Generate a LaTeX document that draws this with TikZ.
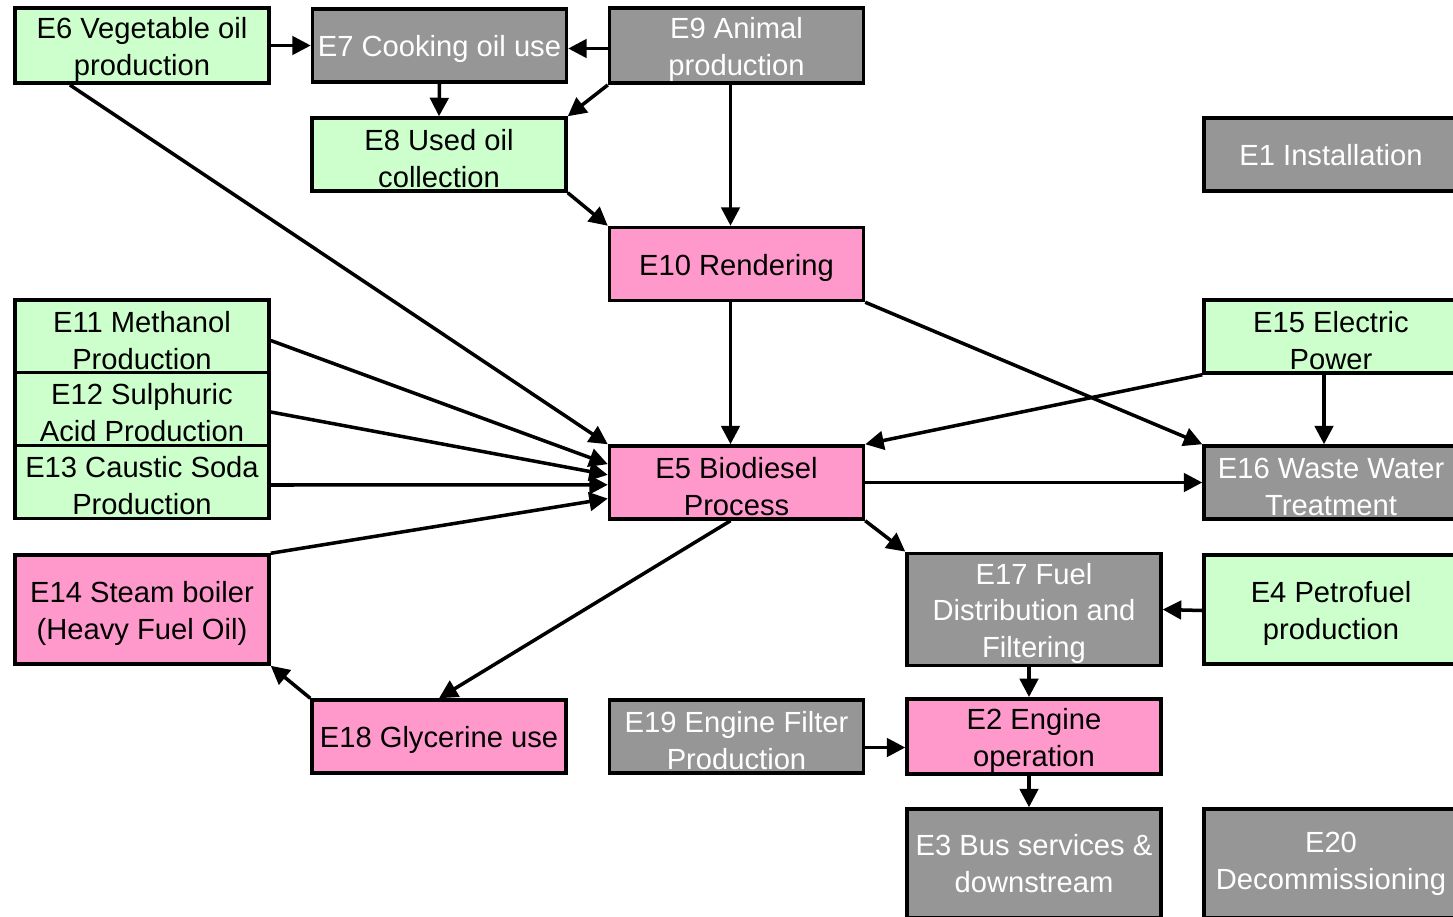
\documentclass[tikz,border=0pt]{standalone}
\usepackage{fontspec}
\setmainfont{Liberation Sans}
\usetikzlibrary{arrows.meta,calc}
\definecolor{inputgreen}{HTML}{CCFFCC}
\definecolor{processpink}{HTML}{FF99CC}
\definecolor{stagegray}{HTML}{969696}
% tall first line, so that text sits a little lower in its box
\newcommand\headstrut{\rule{0pt}{16.5pt}}
% deep line end for labels that have no descenders
\newcommand\footstrut{\rule[-4.5pt]{0pt}{0pt}}
\begin{document}
\begin{tikzpicture}[x=0.02cm,y=-0.02cm,
  box/.style={draw=black, line width=2pt, minimum width=5.08cm, minimum height=1.46cm,
    inner sep=1pt, align=center, font=\fontsize{16.6}{21}\selectfont,
    execute at begin node={\headstrut}},
  tallbox/.style={box, minimum height=2.18cm},
  green/.style={fill=inputgreen, text=black},
  pink/.style={fill=processpink, text=black},
  grey/.style={fill=stagegray, text=white},
  arr/.style={line width=2pt, -{Triangle[length=0.37cm,width=0.37cm]}}]
\useasboundingbox (0,0) rectangle (1453,916);
\clip (0,0) rectangle (1453,916);

% stages of the biodiesel life cycle
\node[box,green] (e6)  at (142,45.5)   {\headstrut E6 Vegetable oil\\production};
\node[box,grey]  (e7)  at (439.5,45.5) {E7 Cooking oil use};
\node[box,grey]  (e9)  at (736.5,45.5) {\headstrut E9 Animal\\production};
\node[box,green] (e8)  at (439,154.5)  {\headstrut E8 Used oil\\collection};
\node[box,grey]  (e1)  at (1331,154.5) {E1 Installation\footstrut};
\node[box,pink]  (e10) at (736.5,264)  {E10 Rendering};
\node[box,green] (e11) at (142,336.5)  {\headstrut E11 Methanol\\Production};
\node[box,green] (e12) at (142,409)    {\headstrut E12 Sulphuric\\Acid Production};
\node[box,green] (e13) at (142,482)    {\headstrut E13 Caustic Soda\\Production};
\node[box,green] (e15) at (1331,336.5) {\headstrut E15 Electric\\Power};
\node[box,pink]  (e5)  at (736.5,482.5){\headstrut E5 Biodiesel\\Process};
\node[box,grey]  (e16) at (1331,482.5) {\headstrut E16 Waste Water\\Treatment};
\node[tallbox,pink]  (e14) at (142,609.5)  {\headstrut E14 Steam boiler\\(Heavy Fuel Oil)};
\node[tallbox,grey]  (e17) at (1034,609.5) {\headstrut E17 Fuel\\Distribution and\\Filtering};
\node[tallbox,green] (e4)  at (1331,609.5) {\headstrut E4 Petrofuel\\production};
\node[box,pink]  (e18) at (439,736.5)  {E18 Glycerine use};
\node[box,grey]  (e19) at (736.5,736.5){\headstrut E19 Engine Filter\\Production};
\node[box,pink]  (e2)  at (1034,736.5) {\headstrut E2 Engine\\operation};
\node[tallbox,grey] (e3)  at (1034,863.5) {E3 Bus services \&\\downstream};
\node[tallbox,grey] (e20) at (1331,863.5) {E20\\Decommissioning};

% material and energy flows
\draw[arr] (e6.east) -- (e7.west);
\draw[arr] ($(e9.west)+(0,3)$) -- ($(e7.east)+(0,3)$);
\draw[arr] (e7.south) -- (e8.north);
\draw[arr] (e9.south west) -- (e8.north east);
\draw[arr] ($(e9.south)+(-6,0)$) -- ($(e10.north)+(-6,0)$);
\draw[arr] (e8.south east) -- (e10.north west);
\draw[arr] ($(e6.south west)!0.22!(e6.south east)$) -- (e5.north west);
\draw[arr] ($(e10.south)+(-6,0)$) -- ($(e5.north)+(-6,0)$);
\draw[arr] (e10.south east) -- (e16.north west);
\draw[arr] ($(e11.east)+(0,4)$) -- ($(e5.north west)!0.26!(e5.south west)$);
\draw[arr] ($(e12.east)+(0,3)$) -- ($(e5.north west)!0.40!(e5.south west)$);
\draw[arr] ($(e13.east)+(0,3)$) -- ($(e5.north west)!0.53!(e5.south west)$);
\draw[arr] (e14.north east) -- ($(e5.north west)!0.71!(e5.south west)$);
\draw[arr] (e15.south west) -- (e5.north east);
\draw[arr] ($(e15.south)+(-7,0)$) -- ($(e16.north)+(-7,0)$);
\draw[arr] (e5.east) -- (e16.west);
\draw[arr] (e5.south east) -- (e17.north west);
\draw[arr] ($(e5.south)+(-6,0)$) -- (e18.north);
\draw[arr] (e18.north west) -- (e14.south east);
\draw[arr] ($(e4.west)+(0,1)$) -- (e17.east);
\draw[arr] ($(e17.south)+(-5,0)$) -- ($(e2.north)+(-5,0)$);
\draw[arr] ($(e19.east)+(0,11)$) -- ($(e2.west)+(0,11)$);
\draw[arr] ($(e2.south)+(-5,0)$) -- ($(e3.north)+(-5,0)$);
\end{tikzpicture}
\end{document}
